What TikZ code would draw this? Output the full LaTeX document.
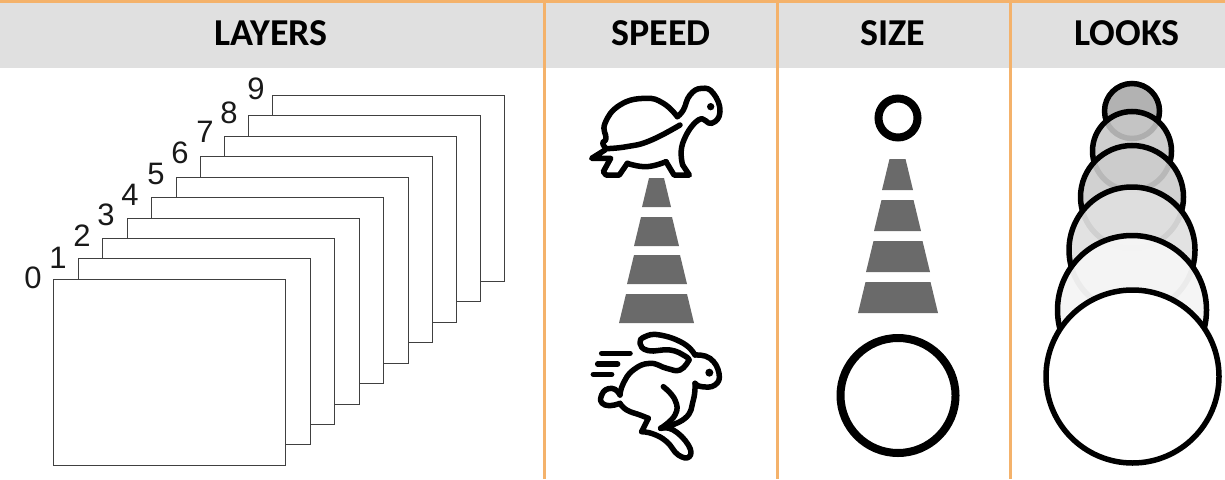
\documentclass[tikz,border=0pt]{standalone}
\usepackage{fontspec}
\setmainfont{Liberation Sans}
\newfontfamily\headfont{Carlito}
\definecolor{bandgray}{HTML}{E0E0E0}
\definecolor{rulecolor}{HTML}{F4B26B}
\definecolor{conegray}{HTML}{6A6A6A}
\begin{document}
\begin{tikzpicture}[
  x=1pt, y=-1pt,
  head/.style={font=\headfont\bfseries\fontsize{38}{42}\selectfont, inner sep=0pt},
  sheet/.style={draw=black!75, fill=white, line width=1pt, minimum width=232pt, minimum height=186pt, inner sep=0pt},
  num/.style={font=\fontsize{31}{34}\selectfont, inner sep=0pt, text=black!90},
  divider/.style={draw=rulecolor, line width=3pt},
  bar/.style={fill=conegray, draw=none},
  ring/.style={draw=black, line width=8pt, fill=white},
  bubble/.style={draw=black, line width=5.5pt},
  icon/.style={draw=black, line width=5.5pt, line cap=round, line join=round}
]
\useasboundingbox (0,0) rectangle (1225,479);

% --- header band ---
\fill[bandgray] (0,0) rectangle (1225,68);
\node[head] (layers) at (271,33) {LAYERS};
\node[head] (speed) at (661,33) {SPEED};
\node[head] (size) at (893,33) {SIZE};
\node[head] (looks) at (1127,33) {LOOKS};

% --- layers, back to front ---
\foreach \i/\tx/\ty/\lx/\ly in {9/388.5/188/256/89, 8/364/208.5/229/113, 7/340/229/205/132,
    6/316/249.5/180/153, 5/292/270/156/174, 4/267.5/290.5/130/195, 3/243/311/106/215,
    2/218.5/331.5/82/236, 1/194/351/58/258, 0/169/372/33/278}{
  \node[sheet] (sheet\i) at (\tx,\ty) {};
  \node[num] (num\i) at (\lx,\ly) {\i};
}

% --- speed ---
\foreach \a/\b/\p/\q in {178/207/642/671, 217/246/634/679, 255/284/627/687, 294/323/619/694}{
  \fill[bar] (\p,\b) -- (\p+7,\a) -- (\q-7,\a) -- (\q,\b) -- cycle;
}
% turtle
\begin{scope}[shift={(570,70)}, scale=1/3]
  \draw[icon] plot[smooth, tension=.8] coordinates {(330,165) (240,212) (170,230) (108,236)};
  \draw[icon] plot[smooth, tension=.8] coordinates {(108,236) (98,218) (108,205) (105,160) (150,105) (225,85) (280,100) (322,140)};
  \draw[icon] (105,240) -- (65,265) -- (122,265) -- (100,305) -- (108,315) -- (148,315) -- (172,280);
  \draw[icon] plot[smooth, tension=.8] coordinates {(172,280) (230,290) (288,275)};
  \draw[icon] (288,275) -- (312,315) -- (358,315) -- (338,285);
  \draw[icon] plot[smooth, tension=.8] coordinates {(338,285) (338,220) (385,150) (425,160) (450,125) (430,70) (395,55) (360,75) (340,120) (322,140)};
  \fill (422,110) circle (11);
\end{scope}
% rabbit
\begin{scope}[shift={(570,320)}, scale=1/3]
  \draw[icon] plot[smooth, tension=.8] coordinates {(375,105) (340,70) (270,45) (225,50) (210,70) (235,92) (300,90) (345,108) (357,120)};
  \draw[icon] plot[smooth, tension=.8] coordinates {(357,120) (330,150) (290,145) (240,130) (190,150) (160,190) (150,225)};
  \draw[icon] plot[smooth, tension=.8] coordinates {(375,105) (420,115) (447,160) (435,195) (395,200) (375,190)};
  \draw[icon] plot[smooth, tension=.8] coordinates {(375,190) (370,240) (345,295) (272,325)};
  \draw[icon] plot[smooth, tension=.8] coordinates {(280,200) (315,240) (315,285) (272,325)};
  \draw[icon] plot[smooth, tension=.8] coordinates {(272,325) (310,330) (355,375) (358,410) (325,405) (290,365) (250,342) (215,335)};
  \draw[icon] (215,335) -- (235,295);
  \draw[icon] plot[smooth, tension=.8] coordinates {(235,295) (210,285) (170,270) (150,250)};
  \draw[icon] plot[smooth, tension=1] coordinates {(150,225) (125,205) (95,225) (105,255) (150,250)};
  \fill (418,158) circle (12);
  \draw[icon] (95,100) -- (180,100);
  \draw[icon] (83,132) -- (143,132);
  \draw[icon] (70,163) -- (125,163);
\end{scope}

% --- size ---
\draw[ring] (898,118) circle (19.5);
\draw[ring] (898,395.5) circle (57.5);
\foreach \a/\b/\p/\q in {159/190/882/913, 200/231/874/921, 241/272/866/930, 282/313/858/938}{
  \fill[bar] (\p,\b) -- (\p+7.5,\a) -- (\q-7.5,\a) -- (\q,\b) -- cycle;
}

% --- looks, back to front ---
\draw[bubble, fill=gray!60] (1132,111) circle (27.5);
\draw[bubble, fill=black!22, fill opacity=.88] (1132,151) circle (39.5);
\draw[bubble, fill=black!20, fill opacity=.9] (1132,197) circle (51.5);
\draw[bubble, fill=black!12, fill opacity=.93] (1132,250) circle (63);
\draw[bubble, fill=black!4, fill opacity=.96] (1132,310) circle (74.5);
\draw[bubble, fill=white] (1132.5,376.5) circle (86.5);

% --- dividers ---
\draw[divider] (0,1) -- (1225,1);
\foreach \x in {544,777,1010}{
  \draw[divider] (\x,0) -- (\x,479);
}
\end{tikzpicture}
\end{document}
